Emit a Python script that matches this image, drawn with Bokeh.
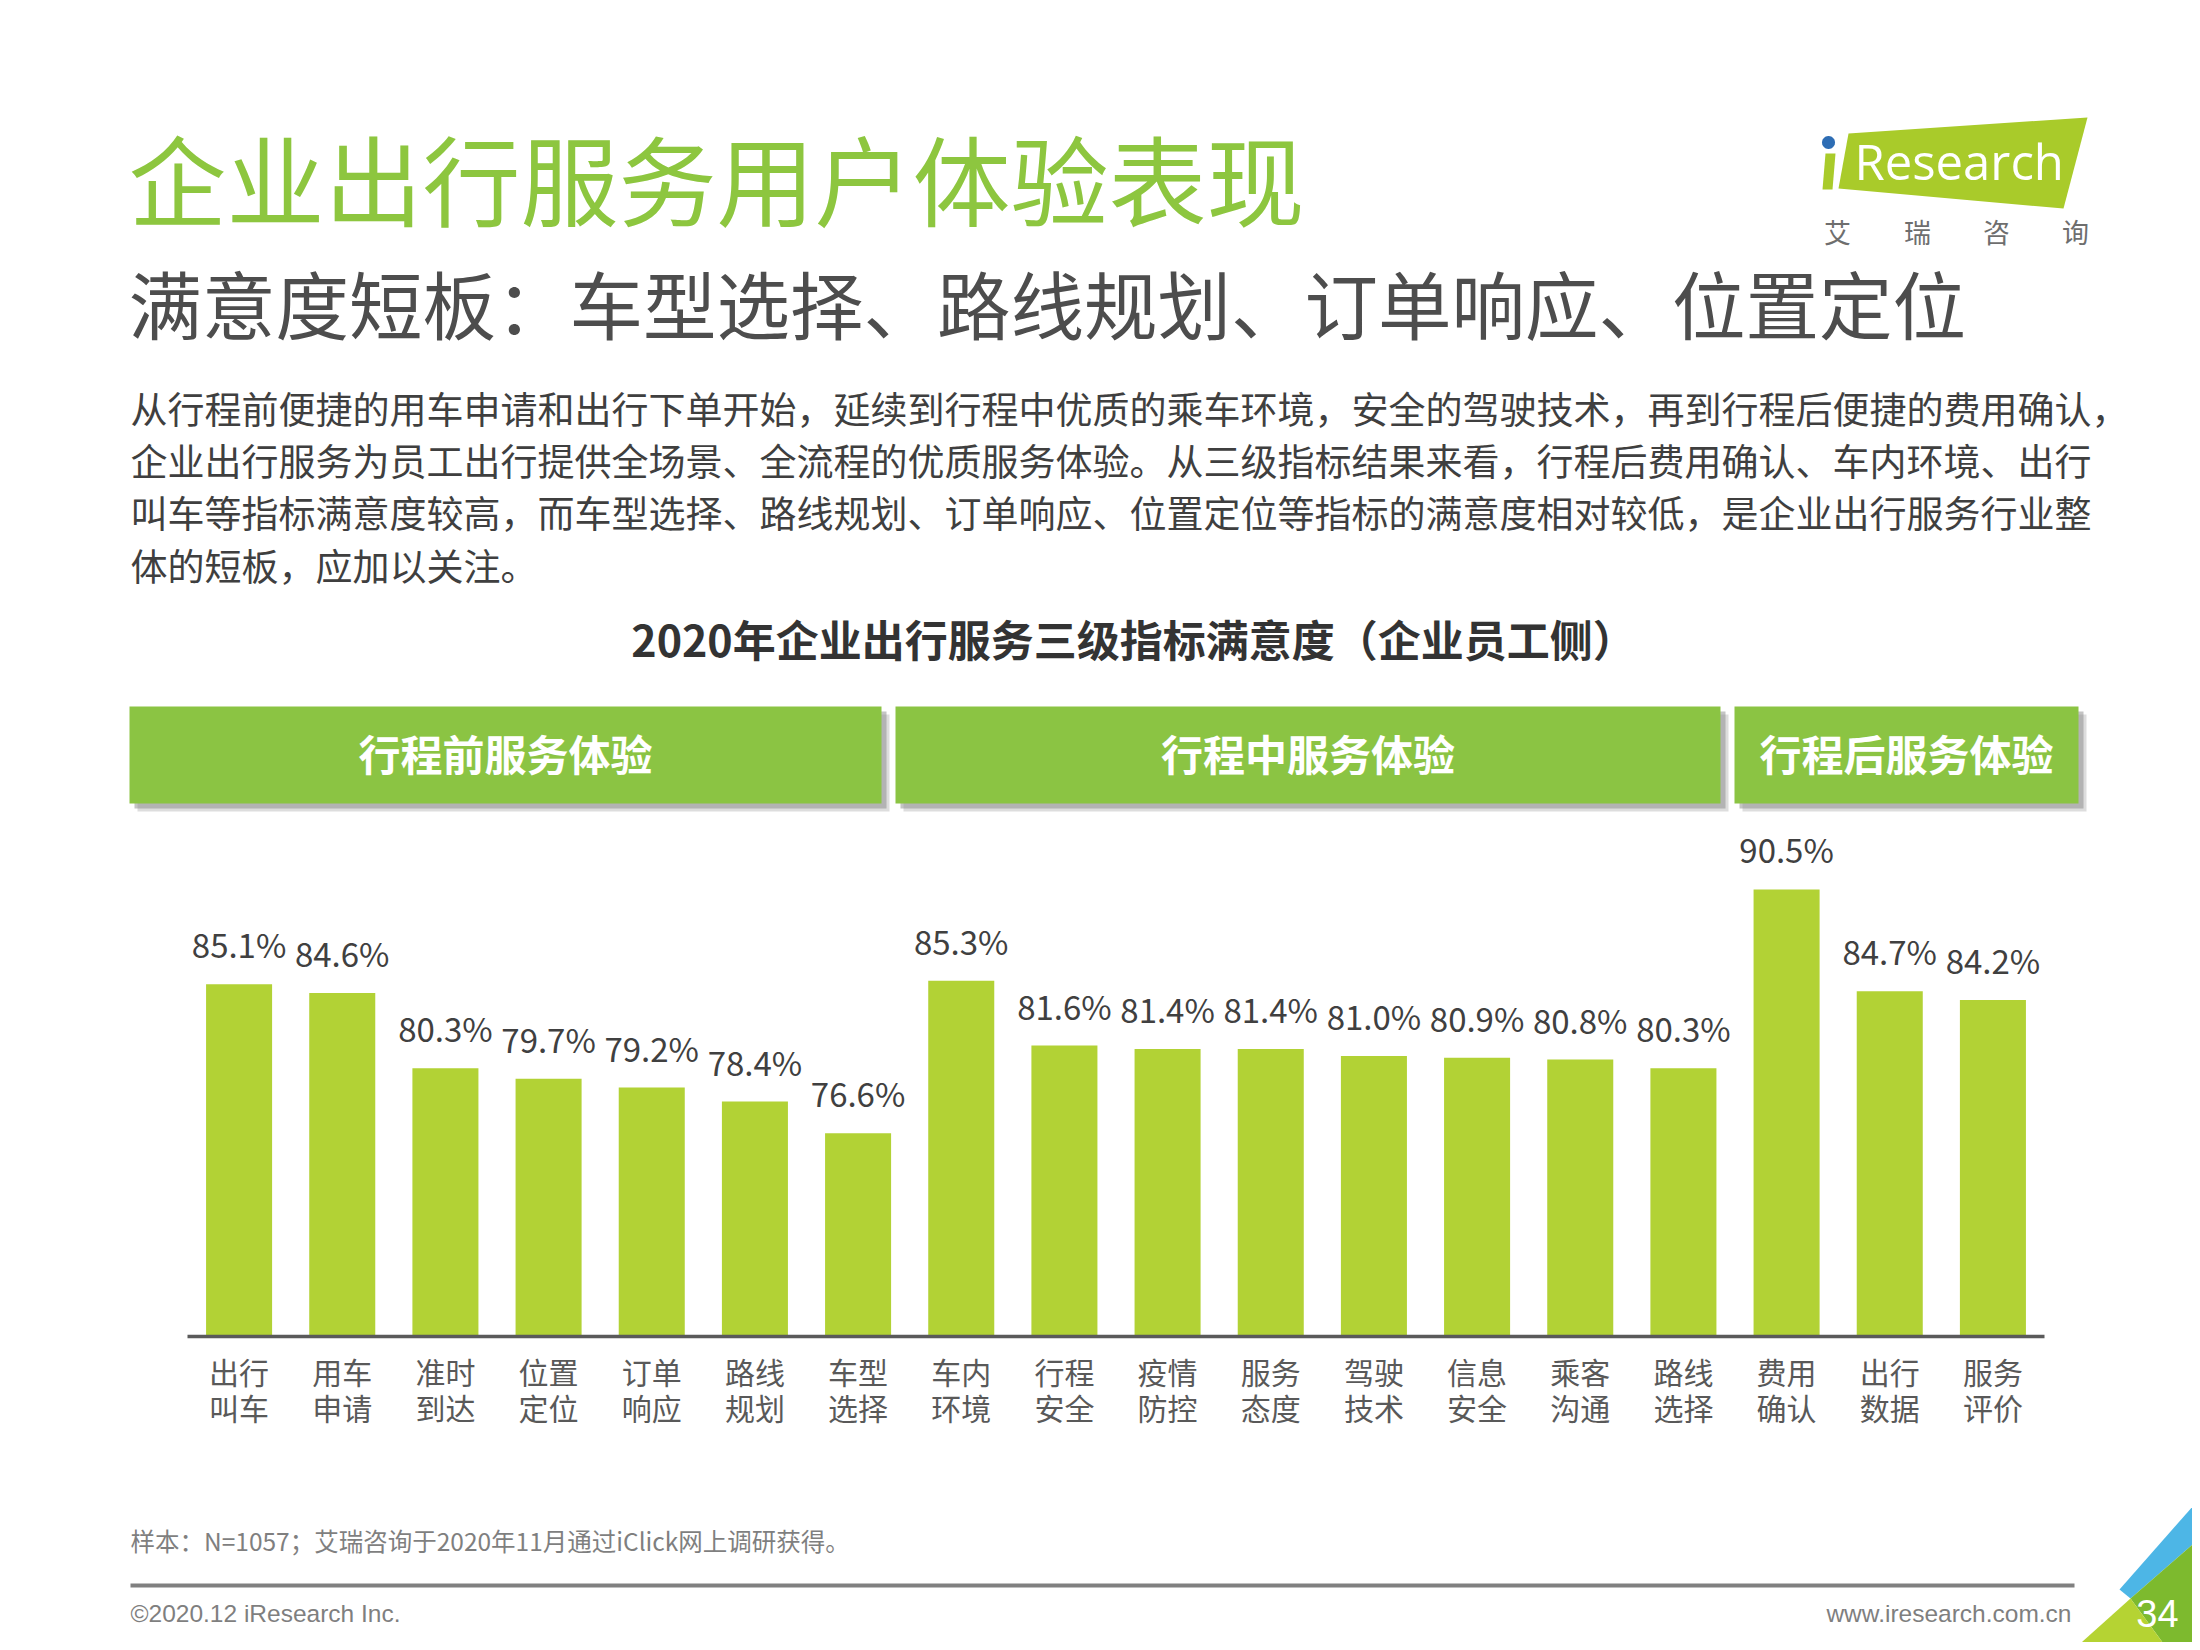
import math
from bokeh.plotting import figure
from bokeh.models import (ColumnDataSource, Range1d, LabelSet, Label, BoxAnnotation)
from bokeh.core.properties import value
from bokeh.embed import file_html
from bokeh.resources import INLINE

# ---------------- data ----------------
categories = ["出行\n叫车", "用车\n申请", "准时\n到达", "位置\n定位", "订单\n响应", "路线\n规划", "车型\n选择",
              "车内\n环境", "行程\n安全", "疫情\n防控", "服务\n态度", "驾驶\n技术", "信息\n安全", "乘客\n沟通",
              "路线\n选择", "费用\n确认", "出行\n数据", "服务\n评价"]
values = [85.1, 84.6, 80.3, 79.7, 79.2, 78.4, 76.6,
          85.3, 81.6, 81.4, 81.4, 81.0, 80.9, 80.8, 80.3,
          90.5, 84.7, 84.2]
value_labels = [f"{v:.1f}%" for v in values]
groups = ["行程前服务体验", "行程中服务体验", "行程后服务体验"]

title = "企业出行服务用户体验表现"
subtitle = "满意度短板：车型选择、路线规划、订单响应、位置定位"
paragraph = [
    "从行程前便捷的用车申请和出行下单开始，延续到行程中优质的乘车环境，安全的驾驶技术，再到行程后便捷的费用确认，",
    "企业出行服务为员工出行提供全场景、全流程的优质服务体验。从三级指标结果来看，行程后费用确认、车内环境、出行",
    "叫车等指标满意度较高，而车型选择、路线规划、订单响应、位置定位等指标的满意度相对较低，是企业出行服务行业整",
    "体的短板，应加以关注。",
]
chart_title = "2020年企业出行服务三级指标满意度（企业员工侧）"
footnote = "样本：N=1057；艾瑞咨询于2020年11月通过iClick网上调研获得。"
copyright_text = "©2020.12 iResearch Inc."
website = "www.iresearch.com.cn"
page_no = "34"

# ---------------- style / layout ----------------
CJK = "Noto Sans CJK SC"
BAR = "#B2D235"
HEAD = "#8BC443"
TXT = "#404040"

W, H = 2192, 1642
OFF = 0                      # canvas origin in page px
FL, FR, FB = 187, 2044, 1336  # chart area (page px): left, right, baseline
N = len(categories)
UX = (FR - FL) / N           # px per category
UY = 17.53                   # px per percent
Y0 = 65.0                    # value at baseline

x_range = Range1d((OFF - FL) / UX, (OFF + W - FL) / UX)
y_range = Range1d(Y0 - (OFF + H - FB) / UY, Y0 + (FB - OFF) / UY)

p = figure(width=W, height=H, x_range=x_range, y_range=y_range,
           output_backend="svg", toolbar_location=None,
           x_axis_location=None, y_axis_location=None, min_border=0)
p.outline_line_color = None
p.background_fill_color = "white"
p.border_fill_color = "white"
for g in p.grid:
    g.visible = False

p.extra_x_ranges = {"px": Range1d(OFF, OFF + W)}
p.extra_y_ranges = {"py": Range1d(OFF + H, OFF)}

xpos = [i + 0.5 for i in range(N)]
row1 = [c.split("\n")[0] for c in categories]
row2 = [c.split("\n")[1] for c in categories]
src = ColumnDataSource(dict(x=xpos, val=values, lbl=value_labels, base=[Y0] * N,
                            r1=row1, r2=row2))

# bars + baseline
p.vbar(x="x", top="val", bottom=Y0, width=0.64, source=src, fill_color=BAR, line_color=None)
p.segment(x0=[0], x1=[N], y0=[Y0], y1=[Y0], line_color="#5A5A5A", line_width=3.5)

# value labels
p.add_layout(LabelSet(x="x", y="val", text="lbl", source=src, text_align="center",
                      text_baseline="alphabetic", y_offset=26, text_font=value(CJK),
                      text_font_size=value("33px"), text_color=value(TXT)))
# category labels (two rows)
for col, off in (("r1", -34), ("r2", -70)):
    p.add_layout(LabelSet(x="x", y="base", text=col, source=src, text_align="center",
                          text_baseline="middle", y_offset=off, text_font=value(CJK),
                          text_font_size=value("30px"), text_color=value("#595959")))


def L(x, y, text, size, color, font=CJK, style="normal", align="left", baseline="middle"):
    p.add_layout(Label(x=x, y=y, x_range_name="px", y_range_name="py", text=text,
                       text_font=font, text_font_size=f"{size}px", text_color=color,
                       text_font_style=style, text_align=align, text_baseline=baseline))


def poly(xs, ys, color):
    p.patch(x=xs, y=ys, x_range_name="px", y_range_name="py",
            fill_color=color, line_color=None)


def box(l, r, t, b, color, alpha=1.0):
    p.add_layout(BoxAnnotation(left=l, right=r, top=t, bottom=b, x_range_name="px",
                               y_range_name="py", fill_color=color, fill_alpha=alpha,
                               line_color=None, line_alpha=0))


# logo shapes
poly([1848, 2087, 2063, 1838], [133, 117, 208, 188], "#A9CB2A")
poly([1825, 1835, 1832, 1822], [153, 153, 189, 189], "#A9CB2A")
n = 24
poly([1828 + 6.5 * math.cos(2 * math.pi * k / n) for k in range(n)],
     [142 + 6.5 * math.sin(2 * math.pi * k / n) for k in range(n)], "#2E6DB4")

# corner decoration
poly([2200, 2119, 2130, 2200], [1497, 1589, 1598, 1537], "#4DB6E6")
poly([2130, 2200, 2200, 2168], [1598, 1537, 1650, 1650], "#7DBA2E")
poly([2130, 2168, 2072], [1598, 1650, 1650], "#B5D333")

# headings
L(128, 175, title, 98, "#8DC63F")
L(128, 301, subtitle, 73.5, "#4D4D4D")
for i, line in enumerate(paragraph):
    L(130, 407 + i * 52.4, line, 37, "#3F3F3F")
L(1133, 637, chart_title, 43, "#333333", style="bold", align="center")

# group header boxes
head_boxes = [(129, 881), (895, 1720), (1734, 2078)]
for (l, r), name in zip(head_boxes, groups):
    box(l + 8, r + 8, 714, 811, "#9E9E9E", 0.35)
    box(l + 5, r + 5, 711, 808, "#8A8A8A", 0.5)
    box(l, r, 706, 803, HEAD)
    L((l + r) / 2, 752, name, 42, "white", style="bold", align="center")

# logo texts
L(1854, 160, "Research", 49, "white", font="Open Sans")
for cx, ch in zip([1837, 1917, 1996, 2075], "艾瑞咨询"):
    L(cx, 231, ch, 27, "#6E6E6E", align="center")

# footer
L(130, 1540, footnote, 24.5, "#7F7F7F")
box(130, 2074, 1583, 1587, "#808080")
L(130, 1613, copyright_text, 24.5, "#7F7F7F", font="Liberation Sans")
L(2071, 1613, website, 24.5, "#7F7F7F", font="Liberation Sans", align="right")
L(2157, 1613, page_no, 38, "white", font="Liberation Sans", align="center")

open("out.html", "w").write(file_html(p, INLINE))
